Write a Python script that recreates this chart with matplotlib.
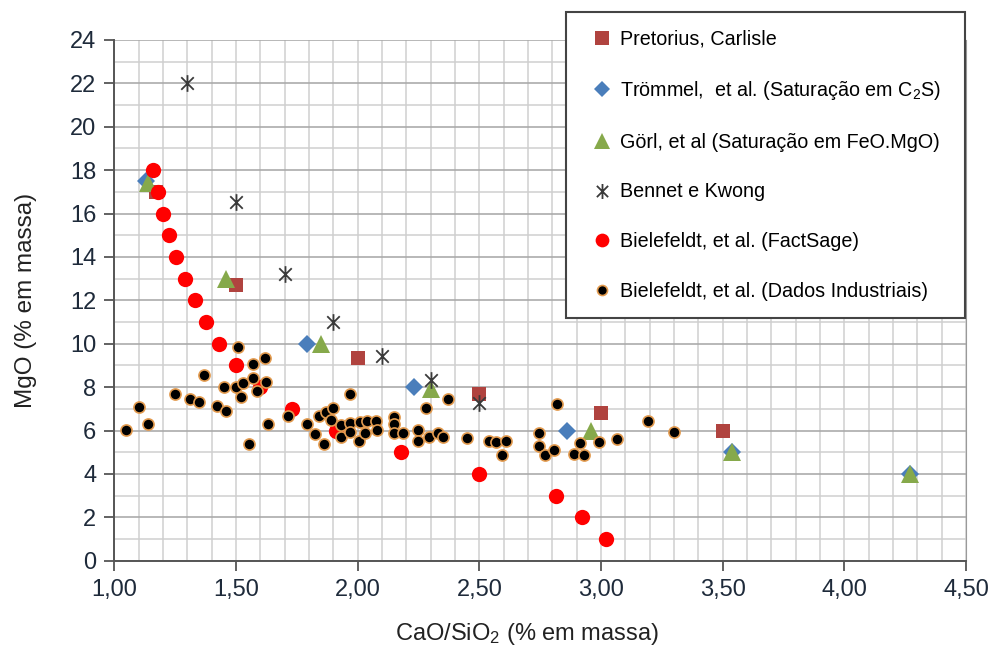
import numpy as np
import matplotlib
matplotlib.use('Agg')
from matplotlib import pyplot as plt
from matplotlib.path import Path
from matplotlib.ticker import MultipleLocator, FuncFormatter

plt.rcParams['font.family'] = ['Liberation Sans', 'DejaVu Sans']
plt.rcParams['mathtext.fontset'] = 'custom'
plt.rcParams['mathtext.rm'] = 'Liberation Sans'
plt.rcParams['mathtext.it'] = 'Liberation Sans:italic'

# Pretorius, Carlisle
pret_x = [1.17, 1.50, 2.00, 2.50, 3.00, 3.50]
pret_y = [17.0, 12.7, 9.33, 7.67, 6.8, 6.0]

# Trommel et al. (C2S saturation)
trom_x = [1.13, 1.79, 2.23, 2.86, 3.54, 4.27]
trom_y = [17.5, 10.0, 8.0, 6.0, 5.0, 4.0]

# Gorl et al. (FeO.MgO saturation)
gorl_x = [1.14, 1.46, 1.85, 2.30, 2.96, 3.54, 4.27]
gorl_y = [17.4, 13.0, 10.0, 7.9, 6.0, 5.0, 4.0]

# Bennet e Kwong
benn_x = [1.30, 1.50, 1.70, 1.90, 2.10, 2.30, 2.50]
benn_y = [22.0, 16.55, 13.2, 11.0, 9.43, 8.33, 7.25]

# Bielefeldt FactSage
fact_x = [1.16, 1.18, 1.20, 1.225, 1.255, 1.29, 1.33, 1.375, 1.43, 1.50,
          1.60, 1.73, 1.91, 2.18, 2.50, 2.815, 2.92, 3.02]
fact_y = [18, 17, 16, 15, 14, 13, 12, 11, 10, 9, 8, 7, 6, 5, 4, 3, 2, 1]

# Bielefeldt industrial data
ind_x = [1.05, 1.10, 1.14, 1.25, 1.31, 1.35, 1.37, 1.42, 1.45, 1.46,
         1.50, 1.51, 1.52, 1.53, 1.555, 1.57, 1.57, 1.585, 1.62, 1.625,
         1.63, 1.715, 1.79, 1.825, 1.84, 1.86, 1.87, 1.89, 1.90, 1.93,
         1.93, 1.97, 1.97, 1.97, 2.005, 2.01, 2.03, 2.04, 2.075, 2.08,
         2.15, 2.15, 2.15, 2.185, 2.25, 2.25, 2.28, 2.295, 2.33, 2.35,
         2.37, 2.45, 2.54, 2.57, 2.595, 2.61, 2.745, 2.745, 2.77, 2.805,
         2.82, 2.89, 2.915, 2.93, 2.99, 3.065, 3.195, 3.30]
ind_y = [6.02, 7.10, 6.30, 7.68, 7.45, 7.33, 8.54, 7.12, 8.02, 6.90,
         8.02, 9.83, 7.53, 8.20, 5.38, 9.05, 8.42, 7.83, 9.34, 8.25,
         6.30, 6.67, 6.30, 5.83, 6.67, 5.38, 6.87, 6.47, 7.02, 6.25,
         5.68, 7.68, 6.36, 5.94, 5.53, 6.41, 5.87, 6.45, 6.42, 6.02,
         6.62, 6.28, 5.87, 5.87, 6.02, 5.52, 7.02, 5.71, 5.87, 5.71,
         7.44, 5.64, 5.52, 5.46, 4.89, 5.52, 5.87, 5.29, 4.87, 5.10,
         7.24, 4.93, 5.41, 4.87, 5.45, 5.60, 6.45, 5.94]

labels = ['Pretorius, Carlisle',
          'Trömmel,  et al. (Saturação em C$_\\mathregular{2}$S)',
          'Görl, et al (Saturação em FeO.MgO)',
          'Bennet e Kwong',
          'Bielefeldt, et al. (FactSage)',
          'Bielefeldt, et al. (Dados Industriais)']

# asterisk made of an X and a vertical bar
star = Path([(0, -1), (0, 1), (-0.75, -0.75), (0.75, 0.75), (-0.75, 0.75), (0.75, -0.75)],
            [Path.MOVETO, Path.LINETO, Path.MOVETO, Path.LINETO, Path.MOVETO, Path.LINETO])

fig = plt.figure(figsize=(9.92, 6.48), dpi=100)
ax = fig.add_axes([114.3/992, 1-560.7/648, (966-114.3)/992, (560.7-40)/648])

ax.plot(pret_x, pret_y, 's', ms=10.5, color='#B0433F', mew=0, label=labels[0])
ax.plot(trom_x, trom_y, 'D', ms=9, color='#4A7EBB', mew=0, label=labels[1])
ax.plot(gorl_x, gorl_y, '^', ms=13.5, color='#86A94B', mew=0, label=labels[2])
ax.plot(benn_x, benn_y, marker=star, ls='none', ms=12, mew=1.3, color='#3A3A3A', label=labels[3])
ax.plot(fact_x, fact_y, 'o', ms=11, color='#FF0000', mew=0, label=labels[4])
ax.plot(ind_x, ind_y, 'o', ms=8.0, mfc='black', mec='#E39B4F', mew=1.2, label=labels[5])

ax.set_xlim(1.0, 4.5)
ax.set_ylim(0, 24)
ax.xaxis.set_major_locator(MultipleLocator(0.5))
ax.xaxis.set_minor_locator(MultipleLocator(0.1))
ax.yaxis.set_major_locator(MultipleLocator(2))
ax.yaxis.set_minor_locator(MultipleLocator(1))
ax.xaxis.set_major_formatter(FuncFormatter(lambda v, p: f'{v:.2f}'.replace('.', ',')))

ax.grid(which='minor', color='#CFCFCF', lw=1.1)
ax.grid(which='major', axis='x', color='#CFCFCF', lw=1.1)
ax.grid(which='major', axis='y', color='#ABABAB', lw=1.2)
ax.set_axisbelow(True)

ax.spines['top'].set_visible(False)
ax.spines['right'].set_color('#9A9A9A')
ax.spines['left'].set_color('#555555')
ax.spines['bottom'].set_color('#555555')
ax.spines['left'].set_linewidth(1.4)
ax.spines['bottom'].set_linewidth(1.4)

ax.tick_params(which='major', length=7, width=1.3, color='#555555', labelsize=17,
               labelcolor='#1E2A3A', pad=6)
ax.tick_params(which='minor', length=0)

ax.set_xlabel('CaO/SiO$_\\mathregular{2}$ (% em massa)', fontsize=17, color='#222222')
ax.set_ylabel('MgO (% em massa)', fontsize=17.5, color='#222222')
ax.xaxis.set_label_coords(0.485, -0.116)
ax.yaxis.set_label_coords(-0.091, 0.5)

top = 1 - 12/648
leg = ax.legend(loc='upper left', bbox_to_anchor=(566/992, top - 0.01, (965-566)/992, 0.01),
                bbox_transform=fig.transFigure, mode='expand', fontsize=14.2,
                frameon=True, fancybox=False, framealpha=1, edgecolor='#444444',
                numpoints=1, markerscale=0.9, labelspacing=1.55, handlelength=1.8,
                handletextpad=0.05, borderpad=0.9, borderaxespad=0)
leg.get_frame().set_linewidth(1.5)

plt.savefig('out.png', dpi=100)
